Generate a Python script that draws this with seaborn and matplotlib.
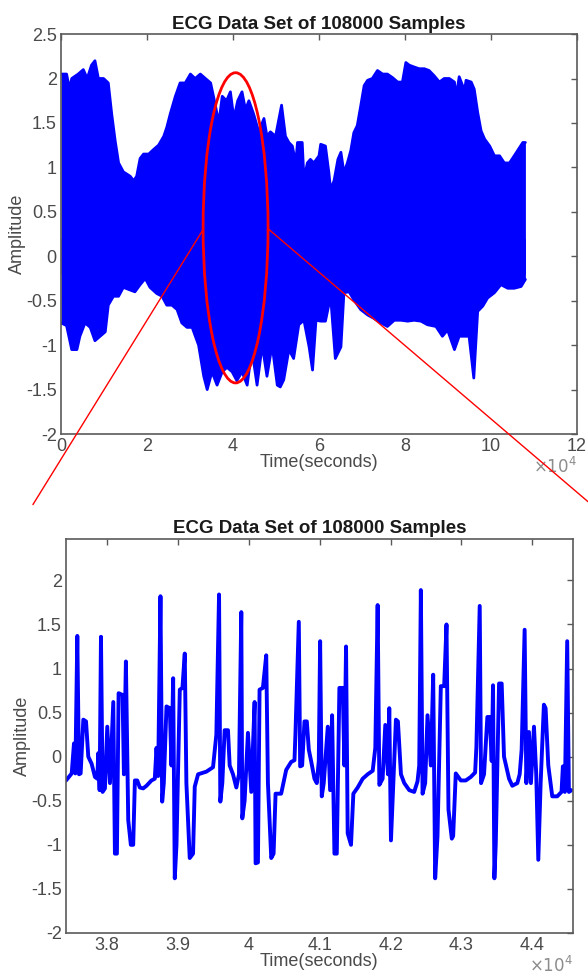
import numpy as np
import pandas as pd
import matplotlib
matplotlib.use("Agg")
import matplotlib.pyplot as plt
import seaborn as sns
from matplotlib.patches import Ellipse, ConnectionPatch
from matplotlib.ticker import FuncFormatter

# %% data (sample index, amplitude)

# top panel: upper / lower envelope of the dense 108000-sample trace
upper_t = [0, 1300, 2000, 2500, 4000, 5200, 6100, 7100, 7900, 8700, 9900, 11000, 11800,
           12600, 13400, 14500, 16100, 16900, 17600, 18400, 19200, 20400, 21500, 22700,
           23900, 24600, 25400, 26600, 27700, 28900, 30100, 31200, 32400, 33600, 34800,
           35900, 36700, 37500, 38500, 39400, 40200, 41100, 42100, 42900, 43700, 44800,
           46000, 47200, 47900, 48700, 49900, 51300, 52200, 53000, 53800, 54600, 55000,
           56100, 56500, 57300, 58000, 58800, 60000, 60400, 61500, 62300, 62700, 63500,
           64400, 65100, 65800, 66600, 67400, 68100, 68900, 69700, 70500, 71300, 72400,
           73600, 74800, 75900, 77100, 78300, 79400, 80200, 81000, 82100, 83300, 84500,
           85600, 86800, 88000, 89100, 90300, 91500, 91900, 92600, 93400, 93800, 94200,
           95400, 96100, 96900, 97700, 98500, 99700, 100800, 102000, 103100, 104300,
           105400, 106600, 107400, 108000]
upper_v = [2.05, 2.05, 1.88, 2.0, 2.05, 2.1, 2.0, 2.15, 2.2, 2.0, 2.0, 1.95, 1.6,
           1.3, 1.05, 0.95, 0.9, 0.85, 0.9, 1.1, 1.15, 1.15, 1.2, 1.25,
           1.35, 1.45, 1.6, 1.8, 1.95, 1.95, 2.05, 2.0, 2.05, 2.0, 1.95,
           1.7, 1.5, 1.8, 1.75, 1.85, 1.55, 1.75, 1.85, 1.65, 1.75, 1.6,
           1.4, 1.55, 1.35, 1.4, 1.35, 1.7, 1.35, 1.28, 1.24, 1.05, 1.28,
           1.28, 0.87, 1.05, 1.09, 1.05, 1.13, 1.26, 1.24, 0.94, 0.75, 0.85,
           1.09, 1.17, 0.94, 1.05, 1.19, 1.39, 1.47, 1.69, 1.92, 1.98, 2.0,
           2.09, 2.05, 2.05, 2.01, 1.96, 1.96, 2.18, 2.15, 2.13, 2.11, 2.11,
           2.09, 2.03, 1.96, 2.0, 2.0, 1.96, 1.79, 2.02, 1.92, 1.85, 1.98,
           1.96, 1.88, 1.62, 1.41, 1.32, 1.24, 1.13, 1.13, 1.05, 1.05,
           1.13, 1.22, 1.28, 1.28]

lower_t = [0, 1300, 2500, 3700, 4400, 5600, 6800, 7900, 9100, 10300, 11000, 12200, 13400,
           14500, 16100, 17200, 18400, 19600, 20700, 22300, 23500, 24600, 25800, 27000,
           28100, 29300, 30500, 32000, 33200, 34000, 35100, 36300, 37500, 38600, 39800,
           40900, 42100, 43300, 44400, 45600, 46800, 47900, 49100, 50300, 51000, 51800,
           53000, 54100, 55300, 56500, 57700, 58500, 59300, 60400, 61500, 62700, 63800,
           65100, 65800, 67000, 68100, 69700, 71300, 72800, 74400, 75900, 77500, 79100,
           80600, 82100, 83700, 85200, 87200, 88700, 89900, 91500, 92600, 93800, 94900,
           96000, 96900, 98100, 99200, 100800, 102300, 103900, 105400, 107000, 108000]
lower_v = [-0.75, -0.78, -1.05, -1.05, -0.9, -0.75, -0.8, -0.95, -0.9, -0.85, -0.55, -0.45, -0.45,
           -0.35, -0.38, -0.4, -0.32, -0.25, -0.35, -0.42, -0.45, -0.55, -0.55, -0.6,
           -0.75, -0.8, -0.8, -1.0, -1.35, -1.5, -1.3, -1.45, -1.3, -1.25, -1.3,
           -1.4, -1.3, -1.45, -1.05, -1.45, -1.0, -1.35, -1.0, -1.45, -1.47, -1.39,
           -1.05, -1.15, -0.77, -0.72, -1.02, -1.28, -0.72, -0.73, -0.73, -0.45, -1.15,
           -1.02, -0.41, -0.4, -0.49, -0.6, -0.66, -0.7, -0.75, -0.79, -0.72, -0.72,
           -0.73, -0.72, -0.73, -0.77, -0.79, -0.9, -0.83, -1.05, -0.9, -0.9, -0.9,
           -1.37, -0.62, -0.56, -0.47, -0.41, -0.32, -0.36, -0.36, -0.34, -0.26]

# bottom panel: traced waveform of the zoomed window
zoom_t = [37418, 37498, 37530, 37549, 37577, 37601, 37624, 37662, 37700, 37732, 37779,
          37826, 37859, 37873, 37892, 37911, 37934, 37967, 38000, 38038, 38085, 38108,
          38136, 38160, 38216, 38235, 38263, 38296, 38333, 38366, 38390, 38423, 38460,
          38507, 38554, 38624, 38671, 38695, 38718, 38751, 38775, 38798, 38836, 38883,
          38906, 38930, 38953, 38977, 39024, 39061, 39094, 39117, 39164, 39211, 39235,
          39282, 39399, 39493, 39540, 39578, 39596, 39624, 39657, 39704, 39728, 39775,
          39822, 39859, 39892, 39906, 39939, 39986, 40033, 40080, 40094, 40127, 40150,
          40197, 40244, 40268, 40315, 40348, 40376, 40455, 40526, 40596, 40643, 40657,
          40704, 40723, 40751, 40784, 40817, 40845, 40878, 40925, 40958, 40986, 41005,
          41028, 41056, 41113, 41146, 41174, 41207, 41240, 41277, 41324, 41348, 41371,
          41394, 41441, 41474, 41535, 41606, 41676, 41747, 41784, 41817, 41841, 41887,
          41925, 41963, 41981, 42005, 42038, 42075, 42103, 42146, 42193, 42263, 42333,
          42380, 42404, 42427, 42451, 42488, 42521, 42568, 42601, 42629, 42662, 42709,
          42756, 42789, 42817, 42864, 42883, 42920, 42991, 43061, 43132, 43193, 43211,
          43258, 43277, 43319, 43366, 43399, 43427, 43446, 43465, 43484, 43531, 43568,
          43601, 43672, 43718, 43789, 43822, 43850, 43892, 43916, 43953, 43981, 44024,
          44056, 44085, 44118, 44164, 44188, 44226, 44282, 44352, 44413, 44432, 44460,
          44493, 44517, 44554]
zoom_v = [-0.27, -0.19, 0.15, -0.19, 1.37, -0.2, -0.19, 0.42, 0.4, 0.0, -0.08,
          -0.23, -0.25, 0.04, -0.38, 1.36, -0.4, -0.36, 0.34, -0.3, 0.62, -1.1,
          -1.1, 0.72, 0.7, -0.2, 1.08, -0.72, -1.0, -1.0, -0.27, -0.27, -0.35,
          -0.36, -0.33, -0.27, -0.25, 0.1, -0.22, 1.82, -0.51, -0.3, 0.57, 0.55,
          -0.1, 0.89, -1.38, -1.0, 0.76, 0.78, 1.17, -0.3, -1.15, -1.1, -0.34,
          -0.2, -0.17, -0.12, 0.25, 1.84, -0.51, -0.3, 0.3, 0.3, -0.1, -0.2,
          -0.35, -0.2, 1.64, -0.7, -0.5, 0.27, -0.4, 0.62, -1.21, -1.2, 0.76,
          0.78, 1.15, -0.3, -1.15, -1.1, -0.42, -0.42, -0.15, -0.06, -0.04, 0.27,
          1.53, -0.11, -0.1, 0.4, 0.4, 0.08, -0.05, -0.25, -0.3, -0.05, 1.31,
          -0.45, -0.3, 0.34, -0.38, 0.47, -1.1, -1.1, 0.78, 0.78, -0.1, 1.25,
          -0.87, -1.0, -0.42, -0.35, -0.25, -0.2, -0.16, 0.1, 1.72, -0.32, -0.25,
          0.36, -0.2, 0.55, -0.95, -0.3, 0.42, 0.4, -0.2, -0.3, -0.38, -0.4,
          -0.28, -0.1, 1.89, -0.42, -0.3, 0.47, -0.1, 0.93, -1.38, -0.9, 0.8,
          0.8, 1.5, -0.6, -0.93, -0.9, -0.19, -0.27, -0.27, -0.23, -0.18, 0.11,
          1.71, -0.3, -0.2, 0.45, 0.45, -0.05, 0.81, -1.38, -1.0, 0.83, 0.83,
          0.0, -0.25, -0.33, -0.3, -0.2, 0.08, 1.44, -0.3, 0.28, -0.3, 0.34,
          -0.2, -1.17, -0.3, 0.59, 0.55, -0.1, -0.45, -0.45, -0.4, -0.11, -0.4,
          1.31, -0.4, -0.38]

title = "ECG Data Set of 108000 Samples"
top_xticks = [0, 20000, 40000, 60000, 80000, 100000, 120000]
top_yticks = [-2, -1.5, -1, -0.5, 0, 0.5, 1, 1.5, 2, 2.5]
bot_xticks = [38000, 39000, 40000, 41000, 42000, 43000, 44000]
bot_yticks = [-2, -1.5, -1, -0.5, 0, 0.5, 1, 1.5, 2]

# %%
sns.set_style("white")
plt.rcParams["font.family"] = ["Liberation Sans", "DejaVu Sans"]
blue = "#0000ff"
frame_col = "#5a5a5a"
tick_col = "#4a4a4a"

upper = pd.DataFrame({"t": upper_t, "v": upper_v})
lower = pd.DataFrame({"t": lower_t, "v": lower_v})
zoom = pd.DataFrame({"t": zoom_t, "v": zoom_v})

fig = plt.figure(figsize=(5.88, 9.76), dpi=100)
ax1 = fig.add_axes([0.1037, 0.5553, 0.8776, 0.4098])
ax2 = fig.add_axes([0.1122, 0.0441, 0.8617, 0.4037])

# top: dense trace drawn as its envelope (the two fills overlap around 0, no seam)
ax1.fill_between(upper["t"], upper["v"], -0.2, color=blue, lw=0)
ax1.fill_between(lower["t"], lower["v"], 0.2, color=blue, lw=0)
sns.lineplot(data=upper, x="t", y="v", ax=ax1, color=blue, lw=2, estimator=None)
sns.lineplot(data=lower, x="t", y="v", ax=ax1, color=blue, lw=2, estimator=None)
ax1.set_xlim(0, 120000)
ax1.set_ylim(-2, 2.5)
ax1.set_xticks(top_xticks)
ax1.set_yticks(top_yticks)
ax1.set_yticklabels([f"{v:g}" for v in top_yticks])

# bottom: zoomed window
sns.lineplot(data=zoom, x="t", y="v", ax=ax2, color=blue, lw=2.8, estimator=None, sort=False)
ax2.set_xlim(37417, 44570)
ax2.set_ylim(-2, 2.47)
ax2.set_xticks(bot_xticks)
ax2.set_yticks(bot_yticks)
ax2.set_yticklabels([f"{v:g}" for v in bot_yticks])

for ax in (ax1, ax2):
    ax.xaxis.set_major_formatter(FuncFormatter(lambda x, p: f"{x / 1e4:g}"))
    ax.set_title(title, fontsize=13.5, fontweight="bold", color="#1a1a1a", pad=4)
    ax.set_xlabel("Time(seconds)", fontsize=13, color=tick_col, labelpad=-1)
    ax.set_ylabel("Amplitude", fontsize=13, color=tick_col, labelpad=0)
    ax.tick_params(direction="in", length=4, width=1, colors=frame_col, labelcolor=tick_col,
                   labelsize=13, top=True, right=True, pad=3)
    for s in ax.spines.values():
        s.set_color(frame_col)
        s.set_linewidth(1.2)
    ax.annotate(r"$\times10^{4}$", xy=(1.0, 0), xycoords="axes fraction", xytext=(0, -16),
                textcoords="offset points", ha="right", va="top", fontsize=12, color="#8c8c8c")

# red ellipse around the zoomed region
ell_x, ell_y, ell_w, ell_h = 40600, 0.32, 15100, 3.49
ax1.add_patch(Ellipse((ell_x, ell_y), ell_w, ell_h, fill=False, ec="red", lw=2, zorder=5))

for x0, y0, fx, fy in [(ell_x - ell_w / 2, 0.30, 0.056, 0.483), (ell_x + ell_w / 2, 0.31, 1.0, 0.486)]:
    con = ConnectionPatch(xyA=(x0, y0), coordsA=ax1.transData, xyB=(fx, fy),
                          coordsB=fig.transFigure, color="red", lw=1)
    fig.add_artist(con)

fig.savefig("out.png", dpi=100)
